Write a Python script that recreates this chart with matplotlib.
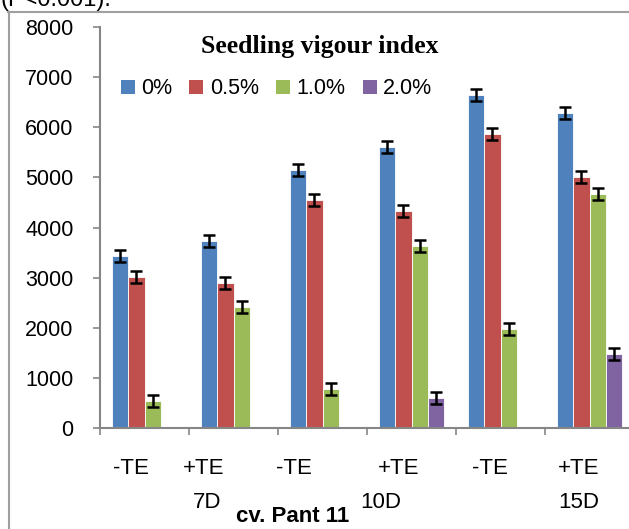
import numpy as np
import matplotlib
matplotlib.use("Agg")
import matplotlib.pyplot as plt
from matplotlib.lines import Line2D
from matplotlib.patches import Patch
import matplotlib.transforms as mtransforms

plt.rcParams.update({
    "font.family": "Liberation Sans",
    "font.size": 15,
})

BLUE   = "#4F81BD"
RED    = "#C0504D"
GREEN  = "#9BBB59"
PURPLE = "#8064A2"
GREY   = "#868686"

series_names = ["0%", "0.5%", "1.0%", "2.0%"]
blue_vals   = [3430, 3730, 5150, 5600, 6650, 6290]
red_vals    = [3010, 2890, 4540, 4320, 5870, 5000]
green_vals  = [530, 2420, 780, 3630, 1970, 4670]
purple_vals = [np.nan, np.nan, np.nan, 600, np.nan, 1480]
err = 120

te_labels  = ["-TE", "+TE", "-TE", "+TE", "-TE", "+TE"]
te_pos     = [-0.15, 0.66, 1.68, 2.86, 3.88, 4.88]
day_labels = ["7D", "10D", "15D"]
day_pos    = [0.70, 2.65, 4.88]

W, H = 629, 529
fig = plt.figure(figsize=(W / 100, H / 100), dpi=100)
ax = fig.add_axes([100 / W, 1 - 428 / H, 534 / W, 401 / H])

x = np.arange(len(blue_vals))
w = 0.18
for i, (vals, col) in enumerate(zip([blue_vals, red_vals, green_vals, purple_vals],
                                     [BLUE, RED, GREEN, PURPLE])):
    vals = np.array(vals, dtype=float)
    ok = ~np.isnan(vals)
    xs = x[ok] + (i - 1.5) * w
    ax.bar(xs, vals[ok], w, color=col, edgecolor="white", linewidth=0.6, zorder=2)
    ax.errorbar(xs, vals[ok], yerr=err, fmt="none", ecolor="black",
                elinewidth=1.8, capsize=4.5, capthick=1.8, zorder=3)

ax.set_xlim(-0.5, 5.5)
ax.set_ylim(0, 8000)
ax.set_yticks(range(0, 8001, 1000))
ax.set_xticks([])
ax.set_xticks(np.arange(-0.5, 5.6, 1), minor=True)
ax.tick_params(axis="x", which="minor", length=5, width=1.2, color=GREY, direction="out")
ax.tick_params(axis="y", length=5, width=1.2, color=GREY, pad=14, labelsize=15.5)
for s in ["top", "right"]:
    ax.spines[s].set_visible(False)
for s in ["left", "bottom"]:
    ax.spines[s].set_color(GREY)
    ax.spines[s].set_linewidth(1.5)

trans = mtransforms.blended_transform_factory(ax.transData, fig.transFigure)
for lab, p in zip(te_labels, te_pos):
    ax.text(p, 1 - 468 / H, lab, transform=trans, ha="center", va="center", fontsize=16)
for lab, p in zip(day_labels, day_pos):
    ax.text(p, 1 - 503 / H, lab, transform=trans, ha="center", va="center", fontsize=16)
fig.text(293 / W, 1 - 517 / H, "cv. Pant 11", ha="center", va="center",
         fontsize=16, fontweight="bold")

fig.text(320 / W, 1 - 47 / H, "Seedling vigour index", ha="center", va="center",
         family="Liberation Serif", fontweight="bold", fontsize=18.5)

handles = [Patch(facecolor=c, edgecolor="none") for c in [BLUE, RED, GREEN, PURPLE]]
fig.legend(handles, series_names, loc="center left", bbox_to_anchor=(112 / W, 1 - 89 / H),
           ncol=4, frameon=False, handlelength=0.65, handleheight=0.65,
           handletextpad=0.3, columnspacing=0.8, fontsize=15.5, borderaxespad=0)

# page frame and clipped caption above
fig.add_artist(Line2D([8.5 / W, 8.5 / W], [0, 1 - 12 / H], color="#A0A0A0", lw=1.5,
                      transform=fig.transFigure))
fig.add_artist(Line2D([8 / W, 1], [1 - 12 / H, 1 - 12 / H], color="#A0A0A0", lw=1.5,
                      transform=fig.transFigure))
fig.text(0 / W, 1 - 6 / H, "(P<0.001).", ha="left", va="baseline", fontsize=17)

fig.savefig("out.png", dpi=100)
